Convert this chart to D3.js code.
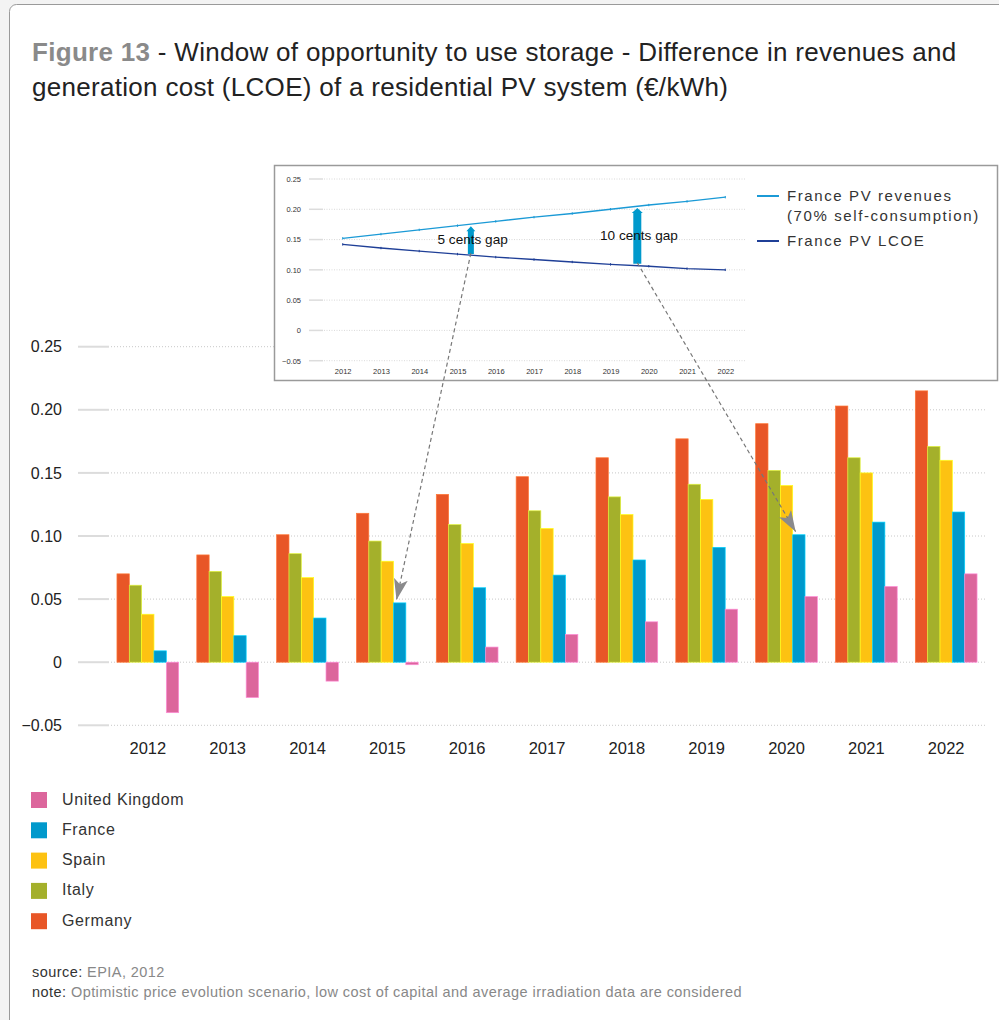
<!DOCTYPE html>
<html>
<head>
<meta charset="utf-8">
<script src="https://cdn.jsdelivr.net/npm/d3@7"></script>
<style>
  body { margin: 0; background: #f3f3f3; }
  svg { display: block; font-family: "Liberation Sans", Arial, sans-serif; }
</style>
</head>
<body>
<svg id="chart" width="999" height="1020"></svg>
<script>
// Data
const years = ["2012", "2013", "2014", "2015", "2016", "2017", "2018", "2019", "2020", "2021", "2022"];
const countries = ["Germany", "Italy", "Spain", "France", "United Kingdom"];
const legendOrder = ["United Kingdom", "France", "Spain", "Italy", "Germany"];
const germany = [0.070, 0.085, 0.101, 0.118, 0.133, 0.147, 0.162, 0.177, 0.189, 0.203, 0.215];
const italy   = [0.061, 0.072, 0.086, 0.096, 0.109, 0.120, 0.131, 0.141, 0.152, 0.162, 0.171];
const spain   = [0.038, 0.052, 0.067, 0.080, 0.094, 0.106, 0.117, 0.129, 0.140, 0.150, 0.160];
const france  = [0.009, 0.021, 0.035, 0.047, 0.059, 0.069, 0.081, 0.091, 0.101, 0.111, 0.119];
const uk      = [-0.040, -0.028, -0.015, -0.002, 0.012, 0.022, 0.032, 0.042, 0.052, 0.060, 0.070];
const yTicks = [-0.05, 0, 0.05, 0.10, 0.15, 0.20, 0.25];

// inset: France PV revenues vs LCOE
const insetYears = [2012, 2013, 2014, 2015, 2016, 2017, 2018, 2019, 2020, 2021, 2022];
const revenues = [0.152, 0.159, 0.166, 0.173, 0.180, 0.187, 0.193, 0.200, 0.207, 0.213, 0.220];
const lcoe     = [0.142, 0.136, 0.131, 0.126, 0.121, 0.117, 0.113, 0.109, 0.106, 0.102, 0.100];
const gapLabels = ["5 cents gap", "10 cents gap"];
const gapYears = [2015.35, 2019.7];
const gapFrom = [0.126, 0.110];
const gapTo = [0.172, 0.202];
const gapTargets = ["2015", "2020"];

const series = { "Germany": germany, "Italy": italy, "Spain": spain, "France": france, "United Kingdom": uk };
const colors = { "Germany": "#e85627", "Italy": "#a4b02b", "Spain": "#fdc212", "France": "#0099cc", "United Kingdom": "#dc669c" };

const svg = d3.select("#chart");

// card background
svg.append("rect")
    .attr("x", 9.5).attr("y", 4.5)
    .attr("width", 1000).attr("height", 1040)
    .attr("rx", 7)
    .attr("fill", "#fff")
    .attr("stroke", "#9a9a9a");

// title
const title = svg.append("text").attr("font-size", 26).attr("letter-spacing", 0.3).attr("fill", "#222");
title.append("tspan").attr("x", 32).attr("y", 61)
    .attr("font-weight", "bold").attr("fill", "#8a8a8a").text("Figure 13");
title.append("tspan").text(" - Window of opportunity to use storage - Difference in revenues and");
title.append("tspan").attr("x", 32).attr("y", 96)
    .text("generation cost (LCOE) of a residential PV system (€/kWh)");

// main chart scales
const x = d3.scaleBand().domain(years).range([97, 997]).paddingInner(0.227).paddingOuter(0.25);
const xc = d3.scaleBand().domain(countries).range([0, x.bandwidth()]);
const y = d3.scaleLinear().domain([-0.05, 0.25]).range([725.3, 346.7]);
const fmt = d => d === 0 ? "0" : d3.format(".2f")(d);

// grid
const grid = svg.append("g");
grid.selectAll("line.tick")
    .data(yTicks).enter().append("line")
    .attr("x1", 78).attr("x2", 109)
    .attr("y1", d => y(d)).attr("y2", d => y(d))
    .attr("stroke", "#dcdcdc").attr("stroke-width", 2);
grid.selectAll("line.dot")
    .data(yTicks).enter().append("line")
    .attr("x1", 111).attr("x2", 986)
    .attr("y1", d => y(d)).attr("y2", d => y(d))
    .attr("stroke", "#c8c8c8").attr("stroke-dasharray", "1,2");

// y axis labels
svg.append("g")
    .attr("transform", "translate(62,0)")
    .call(d3.axisLeft(y).tickValues(yTicks).tickFormat(fmt).tickSize(0).tickPadding(0))
    .call(g => g.select(".domain").remove())
    .call(g => g.selectAll("text").attr("font-size", 16).attr("fill", "#222")
        .attr("font-family", "Liberation Sans, Arial, sans-serif"));

// x axis labels
svg.append("g")
    .attr("transform", "translate(0,742)")
    .call(d3.axisBottom(x).tickSize(0).tickPadding(0))
    .call(g => g.select(".domain").remove())
    .call(g => g.selectAll("text").attr("font-size", 16.5).attr("fill", "#222")
        .attr("font-family", "Liberation Sans, Arial, sans-serif"));

// bars
const groups = svg.append("g").selectAll("g")
    .data(years).enter().append("g")
    .attr("transform", d => `translate(${x(d)},0)`);
groups.selectAll("rect")
    .data((yr, i) => countries.map(c => ({ key: c, value: series[c][i] })))
    .enter().append("rect")
    .attr("x", d => xc(d.key))
    .attr("width", xc.bandwidth())
    .attr("y", d => y(Math.max(0, d.value)))
    .attr("height", d => Math.abs(y(d.value) - y(0)))
    .attr("fill", d => colors[d.key])
    .attr("stroke", d => d3.color(colors[d.key]).brighter(0.9))
    .attr("stroke-width", 0.7);

// legend
const legend = svg.append("g").selectAll("g")
    .data(legendOrder).enter().append("g")
    .attr("transform", (d, i) => `translate(31,${792 + i * 30.3})`);
legend.append("rect")
    .attr("width", 16).attr("height", 16)
    .attr("fill", d => colors[d]);
legend.append("text")
    .attr("x", 31).attr("y", 12.5)
    .attr("font-size", 16).attr("letter-spacing", 0.6).attr("fill", "#333")
    .text(d => d);

// source & note
const src = svg.append("text").attr("x", 32).attr("y", 977).attr("font-size", 14.5)
    .attr("letter-spacing", 0.44).attr("fill", "#888");
src.append("tspan").attr("fill", "#333").text("source:");
src.append("tspan").text(" EPIA, 2012");
const note = svg.append("text").attr("x", 32).attr("y", 997).attr("font-size", 14.5)
    .attr("letter-spacing", 0.44).attr("fill", "#888");
note.append("tspan").attr("fill", "#333").text("note:");
note.append("tspan").text(" Optimistic price evolution scenario, low cost of capital and average irradiation data are considered");

// inset chart
const inset = svg.append("g");
inset.append("rect")
    .attr("x", 274.5).attr("y", 165.5)
    .attr("width", 723).attr("height", 215)
    .attr("fill", "#fff").attr("stroke", "#9a9a9a").attr("stroke-width", 1.5);

const xi = d3.scaleLinear().domain([2012, 2022]).range([342.7, 725.3]);
const yi = d3.scaleLinear().domain([-0.05, 0.25]).range([360.7, 179]);

inset.selectAll("line.tick")
    .data(yTicks).enter().append("line")
    .attr("x1", 309).attr("x2", 323)
    .attr("y1", d => yi(d)).attr("y2", d => yi(d))
    .attr("stroke", "#dcdcdc").attr("stroke-width", 1.5);
inset.selectAll("line.dot")
    .data(yTicks).enter().append("line")
    .attr("x1", 324).attr("x2", 746)
    .attr("y1", d => yi(d)).attr("y2", d => yi(d))
    .attr("stroke", "#cfcfcf").attr("stroke-dasharray", "1,1.5").attr("stroke-width", 0.8);

inset.append("g")
    .attr("transform", "translate(301,0)")
    .call(d3.axisLeft(yi).tickValues(yTicks).tickFormat(fmt).tickSize(0).tickPadding(0))
    .call(g => g.select(".domain").remove())
    .call(g => g.selectAll("text").attr("font-size", 7.5).attr("fill", "#333")
        .attr("font-family", "Liberation Sans, Arial, sans-serif"));

inset.append("g")
    .attr("transform", "translate(0,369)")
    .call(d3.axisBottom(xi).tickValues(insetYears).tickFormat(d3.format("d")).tickSize(0).tickPadding(0))
    .call(g => g.select(".domain").remove())
    .call(g => g.selectAll("text").attr("font-size", 7.5).attr("fill", "#333")
        .attr("font-family", "Liberation Sans, Arial, sans-serif"));

const insetLines = [
    { name: "France PV revenues", values: revenues, color: "#1b9ad6" },
    { name: "France PV LCOE", values: lcoe, color: "#1f3f97" }
];
const line = d3.line().x((d, i) => xi(insetYears[i])).y(d => yi(d));
insetLines.forEach(s => {
    inset.append("path")
        .attr("d", line(s.values))
        .attr("fill", "none")
        .attr("stroke", s.color)
        .attr("stroke-width", 1.4);
    inset.selectAll(null)
        .data(s.values).enter().append("line")
        .attr("x1", (d, i) => xi(insetYears[i])).attr("x2", (d, i) => xi(insetYears[i]))
        .attr("y1", d => yi(d) - 1.2).attr("y2", d => yi(d) + 1.2)
        .attr("stroke", s.color).attr("stroke-width", 1);
});

// gap arrows
gapLabels.forEach((label, i) => {
    const ax = xi(gapYears[i]);
    const w = i === 0 ? 6 : 8;
    const y0 = yi(gapFrom[i]), y1 = yi(gapTo[i]);
    inset.append("path")
        .attr("d", `M${ax - w / 2},${y0} L${ax - w / 2},${y1 + 5} L${ax - w / 2 - 1.5},${y1 + 5} L${ax},${y1} L${ax + w / 2 + 1.5},${y1 + 5} L${ax + w / 2},${y1 + 5} L${ax + w / 2},${y0} Z`)
        .attr("fill", "#0099cc");
});
inset.append("text").attr("x", 437.5).attr("y", 243.5).attr("font-size", 13.6).attr("fill", "#111").text(gapLabels[0]);
inset.append("text").attr("x", 600).attr("y", 240).attr("font-size", 13.6).attr("fill", "#111").text(gapLabels[1]);

// inset legend
const ilg = inset.append("g").attr("font-size", 15).attr("letter-spacing", 1.6).attr("fill", "#333");
ilg.append("line").attr("x1", 757).attr("x2", 779).attr("y1", 196).attr("y2", 196)
    .attr("stroke", insetLines[0].color).attr("stroke-width", 2);
ilg.append("text").attr("x", 787).attr("y", 201).text("France PV revenues");
ilg.append("text").attr("x", 787).attr("y", 221).text("(70% self-consumption)");
ilg.append("line").attr("x1", 757).attr("x2", 779).attr("y1", 241).attr("y2", 241)
    .attr("stroke", insetLines[1].color).attr("stroke-width", 2);
ilg.append("text").attr("x", 787).attr("y", 246).text("France PV LCOE");

// dashed connectors from inset gap to France bars
svg.append("defs").append("marker")
    .attr("id", "head")
    .attr("markerUnits", "userSpaceOnUse")
    .attr("markerWidth", 22).attr("markerHeight", 14)
    .attr("refX", 21).attr("refY", 7)
    .attr("orient", "auto")
    .append("path")
    .attr("d", "M0,0 L21,7 L0,14 L5,7 Z")
    .attr("fill", "#8a8a8c");

gapTargets.forEach((yr, i) => {
    const fi = years.indexOf(yr);
    const tx = x(yr) + xc("France") + 3;
    const ty = y(france[fi]) - 3;
    svg.append("line")
        .attr("x1", xi(gapYears[i])).attr("y1", yi(gapFrom[i]) - 1)
        .attr("x2", tx).attr("y2", ty)
        .attr("stroke", "#777").attr("stroke-width", 1.2)
        .attr("stroke-dasharray", "4,3")
        .attr("marker-end", "url(#head)");
});
</script>
</body>
</html>
